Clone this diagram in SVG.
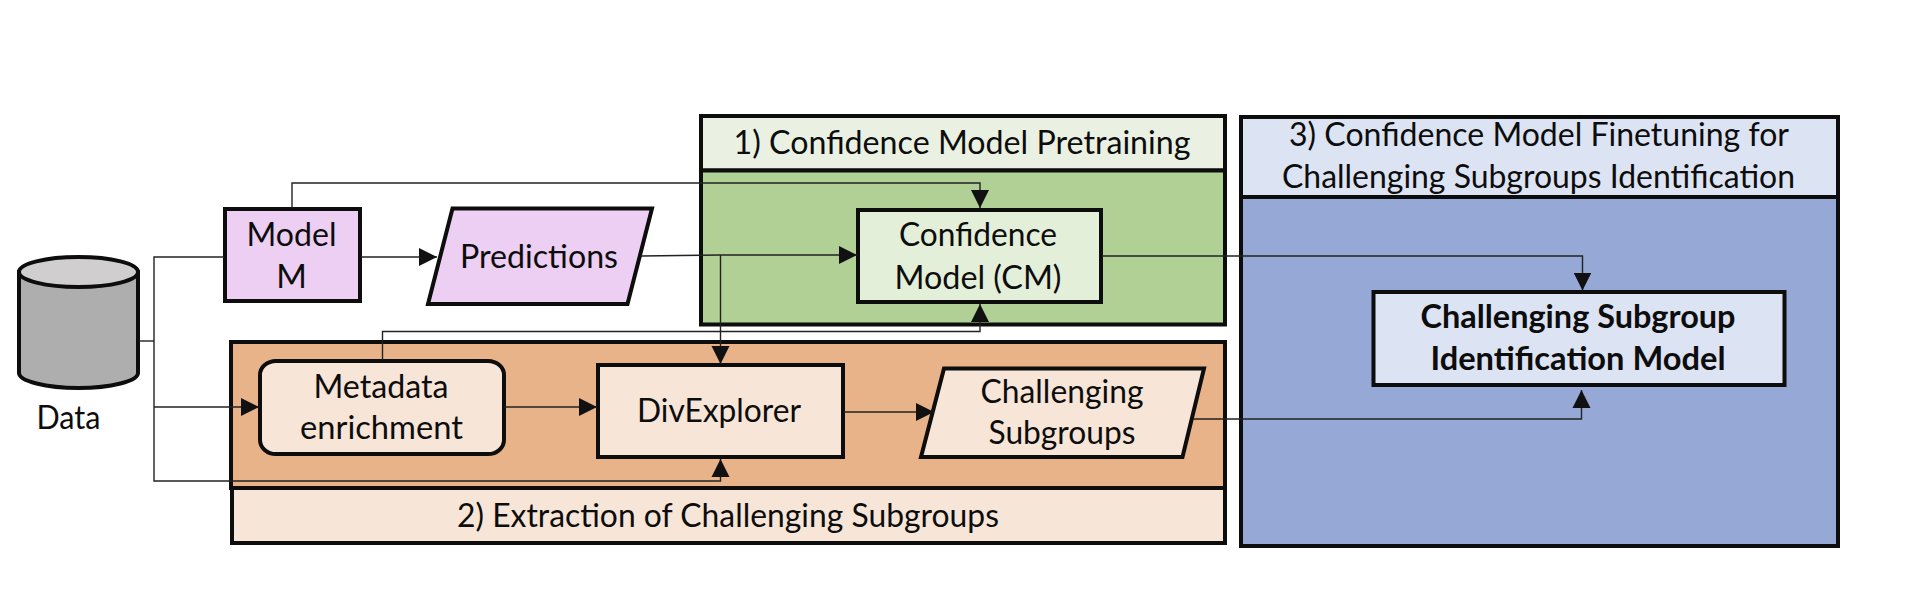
<svg xmlns="http://www.w3.org/2000/svg" width="1906" height="598" viewBox="0 0 1906 598">
<style>
.b{stroke:#0d0d0d;stroke-width:4}
text{font-family:"Lato","Carlito","Open Sans",sans-serif;font-size:33px;fill:#0d0d0d;text-anchor:middle}
.bold{font-weight:700}
.c{fill:none;stroke:#222;stroke-width:1.4}
</style>
<defs>
<marker id="a" markerUnits="userSpaceOnUse" markerWidth="19" markerHeight="19" refX="18" refY="9.500" orient="auto"><path d="M0 0.500L18 9.500L0 18.500Z" fill="#111"/></marker>
</defs>
<rect width="1906" height="598" fill="#fff"/>
<g id="group1">
<rect class="b" x="701" y="116" width="524" height="54.500" fill="#eaf1e3"/>
<rect class="b" x="701" y="170.500" width="524" height="154" fill="#b1d095"/>
<text x="962" y="154" textLength="457" lengthAdjust="spacingAndGlyphs">1) Confidence Model Pretraining</text>
</g>
<g id="group2">
<rect class="b" x="231" y="342" width="994" height="146" fill="#e8b388"/>
<rect class="b" x="232" y="488" width="993" height="55" fill="#f7e5d8"/>
<text x="728" y="527" textLength="542" lengthAdjust="spacingAndGlyphs">2) Extraction of Challenging Subgroups</text>
</g>
<g id="group3">
<rect class="b" x="1241" y="117" width="597" height="80" fill="#dce3f2"/>
<rect class="b" x="1241" y="197" width="597" height="349" fill="#95a8d6"/>
<text x="1539" y="146" textLength="500" lengthAdjust="spacingAndGlyphs">3) Confidence Model Finetuning for</text>
<text x="1538.500" y="188" textLength="513" lengthAdjust="spacingAndGlyphs">Challenging Subgroups Identification</text>
</g>
<g id="data">
<path class="b" d="M19 272V373C19 381 46 388 78.500 388S138 381 138 373V272Z" fill="#aeaeae"/>
<ellipse class="b" cx="78.500" cy="272" rx="59.500" ry="15" fill="#d0cece"/>
<text x="68.500" y="429" textLength="64" lengthAdjust="spacingAndGlyphs">Data</text>
</g>
<g id="model">
<rect class="b" x="225" y="209" width="135" height="92" fill="#eccff2"/>
<text x="291.500" y="246" textLength="90" lengthAdjust="spacingAndGlyphs">Model</text>
<text x="291.500" y="288">M</text>
</g>
<g id="predictions">
<polygon class="b" points="452.500,208.500 652,208.500 627.500,304 428,304" fill="#eccff2"/>
<text x="539" y="268" textLength="158" lengthAdjust="spacingAndGlyphs">Predictions</text>
</g>
<g id="confidence-model">
<rect class="b" x="858" y="210" width="243" height="92" fill="#e4efd9"/>
<text x="978" y="246" textLength="158" lengthAdjust="spacingAndGlyphs">Confidence</text>
<text x="978" y="289" textLength="167" lengthAdjust="spacingAndGlyphs">Model (CM)</text>
</g>
<g id="metadata">
<rect class="b" x="260" y="361" width="244" height="93" rx="16" ry="14" fill="#f7e5d8"/>
<text x="381" y="398" textLength="135" lengthAdjust="spacingAndGlyphs">Metadata</text>
<text x="381.500" y="439" textLength="163" lengthAdjust="spacingAndGlyphs">enrichment</text>
</g>
<g id="divexplorer">
<rect class="b" x="598" y="365" width="245" height="92" fill="#f7e5d8"/>
<text x="719" y="422" textLength="164" lengthAdjust="spacingAndGlyphs">DivExplorer</text>
</g>
<g id="challenging-subgroups">
<polygon class="b" points="944,368.500 1204,368.500 1182.500,457 921,457" fill="#f7e5d8"/>
<text x="1062" y="403" textLength="163" lengthAdjust="spacingAndGlyphs">Challenging</text>
<text x="1062" y="444" textLength="147" lengthAdjust="spacingAndGlyphs">Subgroups</text>
</g>
<g id="identification-model">
<rect class="b" x="1373.500" y="292" width="411" height="93" fill="#dce3f2"/>
<text class="bold" x="1578" y="328" textLength="315" lengthAdjust="spacingAndGlyphs">Challenging Subgroup</text>
<text class="bold" x="1578" y="370" textLength="295" lengthAdjust="spacingAndGlyphs">Identification Model</text>
</g>
<g id="connectors">
<path class="c" d="M139 341H154"/>
<path class="c" d="M224 257H154V481H720.500V459" marker-end="url(#a)"/>
<path class="c" d="M154 407H259" marker-end="url(#a)"/>
<path class="c" d="M292 208V183H980V208" marker-end="url(#a)"/>
<path class="c" d="M361 257H437" marker-end="url(#a)"/>
<path class="c" d="M641 256L720 255H857" marker-end="url(#a)"/>
<path class="c" d="M720.500 255V364" marker-end="url(#a)"/>
<path class="c" d="M382.500 360V331.500H980V304" marker-end="url(#a)"/>
<path class="c" d="M504.500 407H597" marker-end="url(#a)"/>
<path class="c" d="M844 412H934" marker-end="url(#a)"/>
<path class="c" d="M1102 256H1582.500V290.500" marker-end="url(#a)"/>
<path class="c" d="M1193 419H1581.500V390" marker-end="url(#a)"/>
</g>
</svg>
